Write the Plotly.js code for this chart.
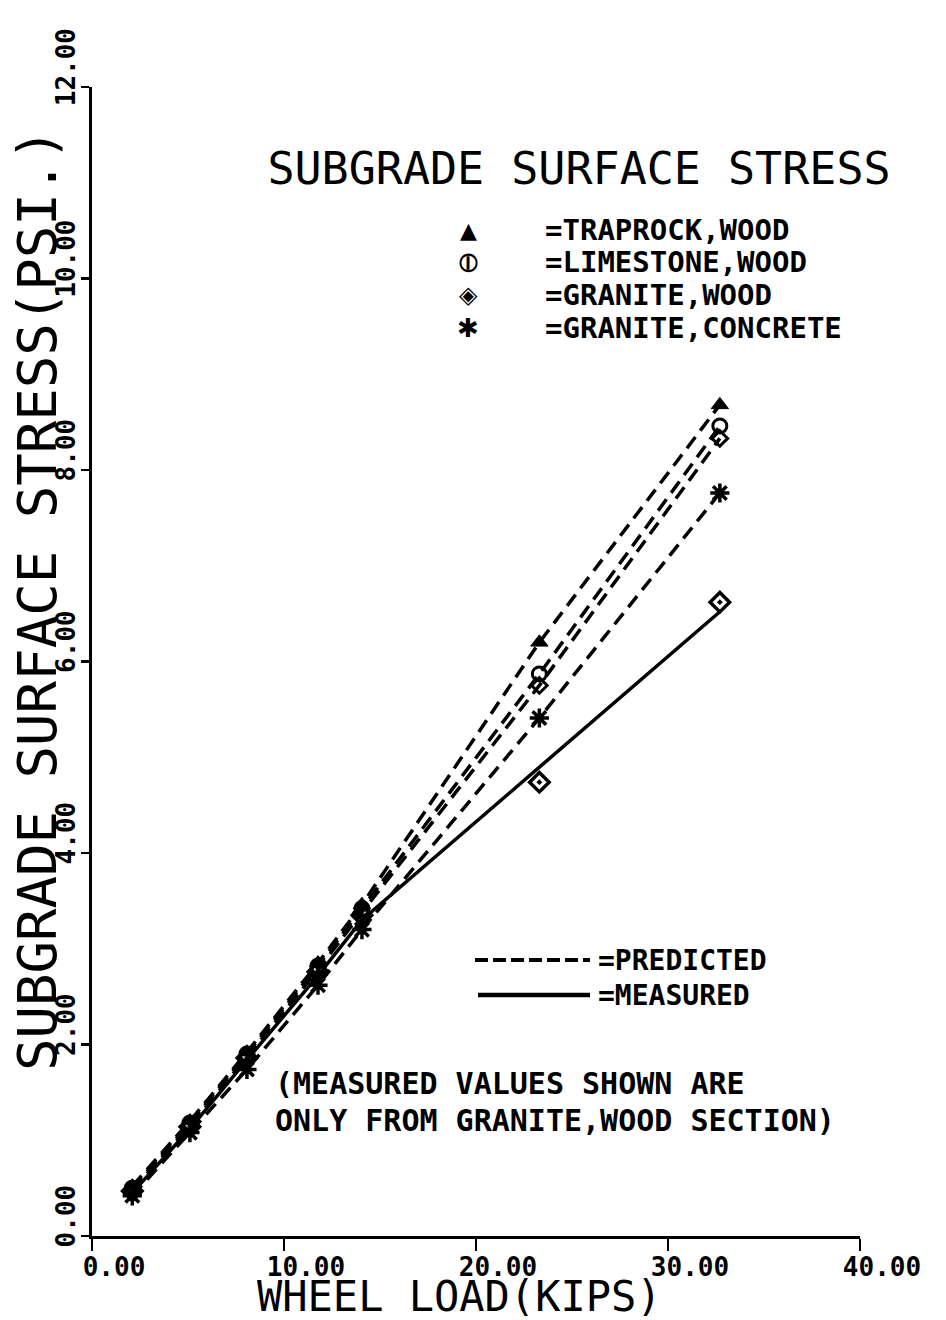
<!DOCTYPE html>
<html>
<head>
<meta charset="utf-8">
<script src="https://cdn.plot.ly/plotly-3.0.1.min.js"></script>
<style>html,body{margin:0;padding:0;background:#fff;}#chart{width:946px;height:1320px;}</style>
</head>
<body>
<div id="chart"></div>
<script>
// Wheel loads (kips)
const wheelLoad = [2.1, 5.1, 8.07, 11.77, 14.06, 23.3, 32.7];
// Predicted subgrade surface stress (psi)
const traprockWoodPred = [0.52, 1.20, 1.92, 2.85, 3.46, 6.20, 8.68];
const limestoneWoodPred = [0.50, 1.18, 1.90, 2.82, 3.42, 5.87, 8.46];
const graniteWoodPred = [0.48, 1.15, 1.87, 2.78, 3.38, 5.75, 8.33];
const graniteConcretePred = [0.42, 1.08, 1.74, 2.62, 3.20, 5.41, 7.76];
// Measured (granite, wood section)
const graniteWoodMeasPts = [0.47, 1.14, 1.86, 2.76, 3.35, 4.74, 6.62];
const graniteWoodMeasLine = [0.45, 1.12, 1.84, 2.72, 3.30, 4.90, 6.52];

const legendLabels = ["=TRAPROCK,WOOD", "=LIMESTONE,WOOD", "=GRANITE,WOOD", "=GRANITE,CONCRETE"];
const legendGlyphs = ["\u25B2", "\u29B6", "\u25C8", "\u2731"];
const lineLegendLabels = ["=PREDICTED", "=MEASURED"];
const noteLines = ["(MEASURED VALUES SHOWN ARE", "ONLY FROM GRANITE,WOOD SECTION)"];
const titleText = "SUBGRADE SURFACE STRESS";
const xTitle = "WHEEL LOAD(KIPS)";
const yTitle = "SUBGRADE SURFACE STRESS(PSI.)";

const mono = "DejaVu Sans Mono";
const dashPat = "14px,8px";

function pred(y, sym, size, lw) {
  return {
    x: wheelLoad, y: y, mode: "lines+markers", type: "scatter", showlegend: false,
    line: {color: "#000", width: 3.5, dash: dashPat},
    marker: {symbol: sym, size: size, color: "#000", line: {color: "#000", width: lw}}
  };
}

const traces = [
  pred(traprockWoodPred, "triangle-up", 15, 1),
  pred(limestoneWoodPred, "circle-open", 14, 3),
  pred(graniteWoodPred, "diamond-open", 12, 3),
  pred(graniteConcretePred, "asterisk-open", 16, 3.5),
  {x: wheelLoad, y: graniteWoodMeasLine, mode: "lines", type: "scatter", showlegend: false,
   line: {color: "#000", width: 3.5}},
  {x: wheelLoad, y: graniteWoodMeasPts, mode: "markers", type: "scatter", showlegend: false,
   marker: {symbol: "diamond-open-dot", size: 15, color: "#000", line: {color: "#000", width: 3.5}}}
];

// pixel -> paper helpers (plot area 92..860 x, 87..1236 y)
const px = v => (v - 92) / 768;
const py = v => (1236 - v) / 1149;

const annotations = [];
const legY = [230, 262, 295, 328];
const glyphSize = [22, 26, 24, 26];
legendLabels.forEach((t, i) => {
  annotations.push({xref: "paper", yref: "paper", x: px(468), y: py(legY[i]), text: legendGlyphs[i],
    showarrow: false, xanchor: "center", yanchor: "middle", font: {family: "DejaVu Sans", size: glyphSize[i], color: "#000", weight: "bold"}});
  annotations.push({xref: "paper", yref: "paper", x: px(543), y: py(legY[i]), text: t,
    showarrow: false, xanchor: "left", yanchor: "middle", font: {family: mono, size: 29, color: "#000", weight: "bold"}});
});
const lineLegY = [960, 995];
lineLegendLabels.forEach((t, i) => {
  annotations.push({xref: "paper", yref: "paper", x: px(596), y: py(lineLegY[i]), text: t,
    showarrow: false, xanchor: "left", yanchor: "middle", font: {family: mono, size: 28, color: "#000", weight: "bold"}});
});
const noteY = [1083, 1120];
noteLines.forEach((t, i) => {
  annotations.push({xref: "paper", yref: "paper", x: px(273), y: py(noteY[i]), text: t,
    showarrow: false, xanchor: "left", yanchor: "middle", font: {family: mono, size: 30, color: "#000", weight: "bold"}});
});
// axis titles
annotations.push({xref: "paper", yref: "paper", x: px(459), y: py(1296), text: xTitle, showarrow: false,
  xanchor: "center", yanchor: "middle", font: {family: mono, size: 42, color: "#000"}});
annotations.push({xref: "paper", yref: "paper", x: px(37), y: py(600), text: yTitle, showarrow: false,
  textangle: -90, xanchor: "center", yanchor: "middle", font: {family: mono, size: 54, color: "#000"}});

const shapes = [
  {type: "line", xref: "paper", yref: "paper", x0: px(475), x1: px(590), y0: py(lineLegY[0]), y1: py(lineLegY[0]),
   line: {color: "#000", width: 4, dash: "13px,5px"}},
  {type: "line", xref: "paper", yref: "paper", x0: px(478), x1: px(590), y0: py(lineLegY[1]), y1: py(lineLegY[1]),
   line: {color: "#000", width: 4.5}}
];

const layout = {
  width: 946, height: 1320,
  margin: {l: 92, r: 86, t: 87, b: 84},
  paper_bgcolor: "#fff", plot_bgcolor: "#fff",
  showlegend: false,
  title: {text: titleText, x: 579 / 946, xanchor: "center", y: 1 - 168 / 1320, yanchor: "middle",
          font: {family: mono, size: 45, color: "#000"}},
  xaxis: {
    range: [0, 40], dtick: 10, tick0: 0, tickformat: ".2f",
    showgrid: false, zeroline: false, showline: true, linecolor: "#000", linewidth: 3,
    ticks: "outside", ticklen: 12, tickwidth: 2.5, tickcolor: "#000",
    ticklabelshift: 22, ticklabelstandoff: -6,
    tickfont: {family: mono, size: 26, color: "#000", weight: "bold"}
  },
  yaxis: {
    range: [0, 12], dtick: 2, tick0: 0, tickformat: ".2f", tickangle: -90,
    showgrid: false, zeroline: false, showline: true, linecolor: "#000", linewidth: 3,
    ticks: "outside", ticklen: 8, tickwidth: 2.5, tickcolor: "#000",
    ticklabelshift: -16, ticklabelstandoff: -4,
    tickfont: {family: mono, size: 26, color: "#000", weight: "bold"}
  },
  annotations: annotations,
  shapes: shapes
};

Plotly.newPlot("chart", traces, layout, {displayModeBar: false, staticPlot: true});
</script>
</body>
</html>
